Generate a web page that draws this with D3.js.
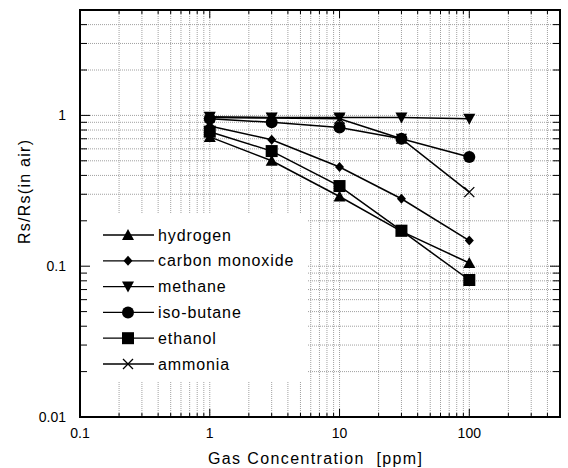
<!DOCTYPE html>
<html><head><meta charset="utf-8">
<script src="https://cdn.jsdelivr.net/npm/d3@7"></script>
<style>body{margin:0;background:#fff}svg{display:block}</style>
</head><body>
<script>
const concentrations = [1, 3, 10, 30, 100];
const seriesNames = ["hydrogen", "carbon monoxide", "methane", "iso-butane", "ethanol", "ammonia"];
const hydrogen = [0.72, 0.50, 0.29, 0.17, 0.105];
const carbonMonoxide = [0.85, 0.69, 0.455, 0.28, 0.148];
const methane = [0.98, 0.97, 0.97, 0.97, 0.95];
const isoButane = [0.95, 0.90, 0.83, 0.70, 0.53];
const ethanol = [0.78, 0.58, 0.34, 0.172, 0.081];
const ammonia = [0.97, 0.96, 0.95, 0.70, 0.31];
const xTickLabels = ["0.1", "1", "10", "100"];
const yTickLabels = ["0.01", "0.1", "1"];
const symbols = ["triangleUp", "diamond", "triangleDown", "circle", "square", "cross"];

const W = 568, H = 468;
const m = {l: 80, r: 8, t: 10, b: 51};
const svg = d3.select("body").append("svg").attr("width", W).attr("height", H);
const x = d3.scaleLog().domain([0.1, 500]).range([m.l, W - m.r]);
const y = d3.scaleLog().domain([0.01, 5]).range([H - m.b, m.t]);
const x0 = x.range()[0], x1 = x.range()[1], y0 = y.range()[0], y1 = y.range()[1];

const xGrid = [], yGrid = [];
[0.1, 1, 10, 100].forEach(d => { for (let k = 1; k <= 9; k++) { const v = d * k; if (v > 0.1 && v <= 500) xGrid.push(v); } });
[0.01, 0.1, 1].forEach(d => { for (let k = 1; k <= 9; k++) { const v = d * k; if (v > 0.01 && v <= 5) yGrid.push(v); } });
const isMajor = v => Math.abs(Math.log10(v) - Math.round(Math.log10(v))) < 1e-9;

const g = svg.append("g");
g.selectAll(".gx").data(xGrid.filter(v => v < 500)).join("line")
  .attr("x1", d => x(d)).attr("x2", d => x(d)).attr("y1", y0).attr("y2", y1)
  .attr("stroke", "#a0a0a0").attr("stroke-width", 1).attr("stroke-dasharray", "1,1");
g.selectAll(".gy").data(yGrid.filter(v => v < 5)).join("line")
  .attr("y1", d => y(d)).attr("y2", d => y(d)).attr("x1", x0).attr("x2", x1)
  .attr("stroke", "#a0a0a0").attr("stroke-width", 1).attr("stroke-dasharray", "1,1");

// legend background hides the grid
const legX = x0 + 1, legY = 214, legW = 227, legH = 167;
svg.append("rect").attr("x", legX).attr("y", legY).attr("width", legW).attr("height", legH).attr("fill", "#fff");

// ticks
const tk = svg.append("g").attr("stroke", "#000").attr("stroke-width", 1);
xGrid.concat([0.1]).forEach(v => {
  const L = isMajor(v) ? 8 : 4;
  tk.append("line").attr("x1", x(v)).attr("x2", x(v)).attr("y1", y0).attr("y2", y0 - L);
  tk.append("line").attr("x1", x(v)).attr("x2", x(v)).attr("y1", y1).attr("y2", y1 + L);
});
yGrid.concat([0.01]).forEach(v => {
  const L = isMajor(v) ? 10 : 7;
  tk.append("line").attr("y1", y(v)).attr("y2", y(v)).attr("x1", x0).attr("x2", x0 + L);
  tk.append("line").attr("y1", y(v)).attr("y2", y(v)).attr("x1", x1).attr("x2", x1 - L);
});
svg.append("rect").attr("x", x0).attr("y", y1).attr("width", x1 - x0).attr("height", y0 - y1)
  .attr("fill", "none").attr("stroke", "#000").attr("stroke-width", 2);

// tick labels
const font = "'Liberation Sans', Arial, sans-serif";
svg.append("g").selectAll("text").data(xTickLabels).join("text")
  .attr("x", d => x(+d)).attr("y", y0 + 21).attr("text-anchor", "middle")
  .attr("font-family", font).attr("font-size", 14).text(d => d);
svg.append("g").selectAll("text").data(yTickLabels).join("text")
  .attr("x", 66).attr("y", d => y(+d) + 5).attr("text-anchor", "end")
  .attr("font-family", font).attr("font-size", 14).text(d => d);
svg.append("text").attr("x", 208).attr("y", 464)
  .attr("font-family", font).attr("font-size", 16).style("white-space", "pre")
  .attr("textLength", 214).attr("lengthAdjust", "spacing").text("Gas Concentration  [ppm]");
svg.append("text").attr("transform", "translate(30,244) rotate(-90)")
  .attr("font-family", font).attr("font-size", 16)
  .attr("textLength", 104).attr("lengthAdjust", "spacing").text("Rs/Rs(in air)");

function drawMarker(sel, type, cx, cy) {
  const s = sel.append("g").attr("transform", `translate(${cx},${cy})`);
  if (type === "triangleUp") s.append("path").attr("d", "M0,-6L6,5L-6,5Z").attr("fill", "#000");
  else if (type === "triangleDown") s.append("path").attr("d", "M0,6L6,-5L-6,-5Z").attr("fill", "#000");
  else if (type === "diamond") s.append("path").attr("d", "M0,-5L4.5,0L0,5L-4.5,0Z").attr("fill", "#000");
  else if (type === "circle") s.append("circle").attr("r", 6).attr("fill", "#000");
  else if (type === "square") s.append("rect").attr("x", -6).attr("y", -6).attr("width", 12).attr("height", 12).attr("fill", "#000");
  else if (type === "cross") s.append("path").attr("d", "M-5,-5L5,5M-5,5L5,-5").attr("stroke", "#000").attr("stroke-width", 1.3).attr("fill", "none");
}

const allSeries = [hydrogen, carbonMonoxide, methane, isoButane, ethanol, ammonia];
const line = d3.line().x((d, i) => x(concentrations[i])).y(d => y(d));
const plot = svg.append("g");
allSeries.forEach((vals, si) => {
  plot.append("path").attr("d", line(vals)).attr("fill", "none").attr("stroke", "#000").attr("stroke-width", 1.5);
});
allSeries.forEach((vals, si) => {
  vals.forEach((v, i) => drawMarker(plot, symbols[si], x(concentrations[i]), y(v)));
});

// legend
const leg = svg.append("g");
seriesNames.forEach((name, i) => {
  const ly = 235 + i * 25.8;
  leg.append("line").attr("x1", 103).attr("x2", 154).attr("y1", ly).attr("y2", ly).attr("stroke", "#000").attr("stroke-width", 1.3);
  drawMarker(leg, symbols[i], 128, ly);
  leg.append("text").attr("x", 158).attr("y", ly + 5.5).attr("font-family", font).attr("font-size", 16)
    .attr("letter-spacing", 0.9).text(name);
});
</script>
</body></html>
